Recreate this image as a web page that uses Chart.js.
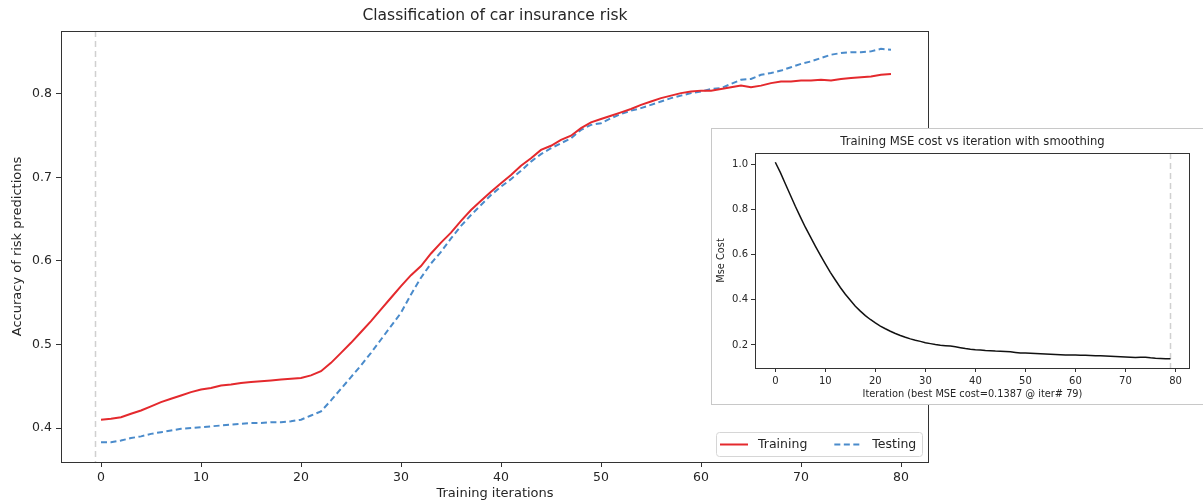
<!DOCTYPE html>
<html>
<head>
<meta charset="utf-8">
<script src="https://cdn.jsdelivr.net/npm/chart.js@4.4.0/dist/chart.umd.min.js"></script>
<style>
    body { margin: 0; background: #fff; }
    #wrap { position: relative; width: 1203px; height: 503px; overflow: hidden; }
    #mainChart { position: absolute; left: 0; top: 0; }
    #insetBox { position: absolute; left: 711px; top: 128px; width: 500px; height: 275px; border: 1px solid #c8c8c8; background: #fff; }
    #insetChart { position: absolute; left: 0; top: 0; }
</style>
</head>
<body>
<div id="wrap">
    <canvas id="mainChart" width="1203" height="503"></canvas>
    <div id="insetBox">
        <canvas id="insetChart" width="491" height="275"></canvas>
    </div>
</div>
<script>
// iteration index 0..79
const iterations = Array.from({ length: 80 }, (_, i) => i);

const trainingAcc = [
    0.410, 0.411, 0.413, 0.417, 0.421, 0.426, 0.431, 0.435, 0.439, 0.443,
    0.446, 0.448, 0.451, 0.452, 0.454, 0.455, 0.456, 0.457, 0.458, 0.459,
    0.460, 0.463, 0.468, 0.478, 0.490, 0.502, 0.515, 0.528, 0.542, 0.556,
    0.570, 0.583, 0.594, 0.609, 0.622, 0.634, 0.648, 0.661, 0.672, 0.683,
    0.693, 0.703, 0.714, 0.723, 0.733, 0.738, 0.745, 0.750, 0.759, 0.766,
    0.770, 0.774, 0.778, 0.782, 0.787, 0.791, 0.795, 0.798, 0.801, 0.803,
    0.804, 0.804, 0.806, 0.808, 0.810, 0.808, 0.810, 0.813, 0.815, 0.815,
    0.816, 0.816, 0.817, 0.816, 0.818, 0.819, 0.820, 0.821, 0.823, 0.824
];

const testingAcc = [
    0.383, 0.383, 0.385, 0.388, 0.390, 0.393, 0.395, 0.397, 0.399, 0.400,
    0.401, 0.402, 0.403, 0.404, 0.405, 0.406, 0.406, 0.407, 0.407, 0.408,
    0.410, 0.415, 0.420, 0.433, 0.447, 0.461, 0.475, 0.490, 0.506, 0.522,
    0.538, 0.560, 0.580, 0.597, 0.611, 0.627, 0.642, 0.655, 0.667, 0.679,
    0.689, 0.698, 0.708, 0.719, 0.728, 0.735, 0.741, 0.747, 0.757, 0.763,
    0.765, 0.771, 0.776, 0.780, 0.783, 0.787, 0.791, 0.795, 0.798, 0.801,
    0.803, 0.806, 0.807, 0.812, 0.817, 0.818, 0.823, 0.825, 0.828, 0.832,
    0.836, 0.839, 0.843, 0.847, 0.849, 0.850, 0.850, 0.851, 0.854, 0.853
];

const mseCost = [
    1.010, 0.965, 0.915, 0.865, 0.815, 0.768, 0.722, 0.680, 0.638, 0.598,
    0.560, 0.522, 0.488, 0.455, 0.425, 0.398, 0.372, 0.350, 0.330, 0.313,
    0.298, 0.284, 0.272, 0.261, 0.251, 0.242, 0.234, 0.227, 0.221, 0.216,
    0.210, 0.206, 0.202, 0.199, 0.197, 0.195, 0.192, 0.188, 0.184, 0.181,
    0.179, 0.178, 0.176, 0.175, 0.173, 0.172, 0.171, 0.170, 0.167, 0.164,
    0.164, 0.163, 0.162, 0.161, 0.160, 0.159, 0.158, 0.157, 0.156, 0.156,
    0.156, 0.155, 0.154, 0.153, 0.152, 0.152, 0.151, 0.150, 0.149, 0.148,
    0.147, 0.146, 0.145, 0.146, 0.146, 0.143, 0.141, 0.140, 0.139, 0.1387
];

const mainXTicks = [0, 10, 20, 30, 40, 50, 60, 70, 80];
const mainYTicks = [0.4, 0.5, 0.6, 0.7, 0.8];
const insetXTicks = [0, 10, 20, 30, 40, 50, 60, 70, 80];
const insetYTicks = [0.2, 0.4, 0.6, 0.8, 1.0];

const mainMarker = -0.6;   // grey dashed line on the accuracy plot
const bestIter = 79;       // grey dashed line on the cost plot

const FONT = 'DejaVu Sans';
const TEXT = '#262626';

function points(ys) {
    return iterations.map((x, i) => ({ x: x, y: ys[i] }));
}

// frame, title and the dashed marker line, drawn the matplotlib way
const framePlugin = {
    id: 'frame',
    beforeDatasetsDraw(chart, args, opts) {
        const { ctx, chartArea: a, scales: { x } } = chart;
        const px = Math.round(x.getPixelForValue(opts.marker)) + 0.5;
        ctx.save();
        ctx.strokeStyle = '#d0d0d0';
        ctx.lineWidth = 1.5;
        ctx.setLineDash([6, 4]);
        ctx.beginPath();
        ctx.moveTo(px, a.top);
        ctx.lineTo(px, a.bottom);
        ctx.stroke();
        ctx.restore();
    },
    afterDraw(chart, args, opts) {
        const { ctx, chartArea: a } = chart;
        ctx.save();
        ctx.strokeStyle = '#333';
        ctx.lineWidth = 1;
        ctx.strokeRect(a.left + 0.5, a.top + 0.5, a.right - a.left - 1, a.bottom - a.top);
        ctx.fillStyle = TEXT;
        ctx.font = opts.titleFont;
        ctx.textAlign = 'center';
        ctx.textBaseline = 'middle';
        ctx.fillText(opts.title, (a.left + a.right) / 2, opts.titleY);
        ctx.restore();
    }
};

// legend box in the lower right corner of the accuracy plot
const legendPlugin = {
    id: 'cornerLegend',
    afterDraw(chart) {
        const { ctx, chartArea: a } = chart;
        const w = 206, h = 24;
        const x0 = a.right - 7 - w, y0 = a.bottom - 6 - h;
        ctx.save();
        ctx.fillStyle = 'rgba(255,255,255,0.85)';
        ctx.strokeStyle = '#d6d6d6';
        ctx.lineWidth = 1;
        ctx.beginPath();
        ctx.roundRect(x0 + 0.5, y0 + 0.5, w, h, 3);
        ctx.fill();
        ctx.stroke();
        ctx.font = '12.5px ' + FONT;
        ctx.textBaseline = 'middle';
        ctx.fillStyle = TEXT;
        const cy = y0 + h / 2 + 0.5;
        let cx = x0 + 4;
        chart.data.datasets.forEach(ds => {
            ctx.strokeStyle = ds.borderColor;
            ctx.lineWidth = ds.borderWidth;
            ctx.setLineDash(ds.borderDash || []);
            ctx.beginPath();
            ctx.moveTo(cx, cy);
            ctx.lineTo(cx + 28, cy);
            ctx.stroke();
            ctx.fillText(ds.label, cx + 38, cy);
            cx += 38 + ctx.measureText(ds.label).width + 27;
        });
        ctx.restore();
    }
};

new Chart(document.getElementById('mainChart').getContext('2d'), {
    type: 'line',
    data: {
        datasets: [{
            label: 'Training',
            data: points(trainingAcc),
            borderColor: '#e4292d',
            borderWidth: 2,
            pointRadius: 0,
            tension: 0
        }, {
            label: 'Testing',
            data: points(testingAcc),
            borderColor: '#4a8bcb',
            borderWidth: 2,
            borderDash: [6, 3.5],
            pointRadius: 0,
            tension: 0
        }]
    },
    options: {
        responsive: false,
        animation: false,
        layout: { padding: { left: 0, top: 31, right: 274, bottom: 0 } },
        plugins: {
            legend: { display: false },
            tooltip: { enabled: false },
            frame: { title: 'Classification of car insurance risk', titleFont: '15.5px ' + FONT, titleY: 16, marker: mainMarker }
        },
        scales: {
            x: {
                type: 'linear',
                min: -4,
                max: 82.8,
                afterBuildTicks: s => { s.ticks = mainXTicks.map(v => ({ value: v })); },
                afterFit: s => { s.height = 41; },
                grid: { drawOnChartArea: false, tickLength: 5, color: '#333' },
                border: { display: false },
                ticks: { font: { family: FONT, size: 12.5 }, color: TEXT, padding: 3, maxRotation: 0 },
                title: { display: true, text: 'Training iterations', font: { family: FONT, size: 13 }, color: TEXT, padding: { top: 0, bottom: 2 } }
            },
            y: {
                min: 0.3593,
                max: 0.8754,
                afterBuildTicks: s => { s.ticks = mainYTicks.map(v => ({ value: v })); },
                afterFit: s => { s.width = 61; },
                grid: { drawOnChartArea: false, tickLength: 5, color: '#333' },
                border: { display: false },
                ticks: { font: { family: FONT, size: 12.5 }, color: TEXT, padding: 4, callback: v => v.toFixed(1) },
                title: { display: true, text: 'Accuracy of risk predictions', font: { family: FONT, size: 13 }, color: TEXT, padding: { top: 10, bottom: 0 } }
            }
        }
    },
    plugins: [framePlugin, legendPlugin]
});

new Chart(document.getElementById('insetChart').getContext('2d'), {
    type: 'line',
    data: {
        datasets: [{
            label: 'Mse Cost',
            data: points(mseCost),
            borderColor: '#111',
            borderWidth: 1.5,
            pointRadius: 0,
            tension: 0
        }]
    },
    options: {
        responsive: false,
        animation: false,
        layout: { padding: { left: 0, top: 24, right: 13, bottom: 0 } },
        plugins: {
            legend: { display: false },
            tooltip: { enabled: false },
            frame: { title: 'Training MSE cost vs iteration with smoothing', titleFont: '11.6px ' + FONT, titleY: 13, marker: bestIter }
        },
        scales: {
            x: {
                type: 'linear',
                min: -4.06,
                max: 82.9,
                afterBuildTicks: s => { s.ticks = insetXTicks.map(v => ({ value: v })); },
                afterFit: s => { s.height = 36; },
                grid: { drawOnChartArea: false, tickLength: 4, color: '#333' },
                border: { display: false },
                ticks: { font: { family: FONT, size: 10 }, color: TEXT, padding: 3, maxRotation: 0 },
                title: { display: true, text: 'Iteration (best MSE cost=0.1387 @ iter# 79)', font: { family: FONT, size: 9.8 }, color: TEXT, padding: { top: 0, bottom: 4 } }
            },
            y: {
                min: 0.098,
                max: 1.051,
                afterBuildTicks: s => { s.ticks = insetYTicks.map(v => ({ value: v })); },
                afterFit: s => { s.width = 43; },
                grid: { drawOnChartArea: false, tickLength: 4, color: '#333' },
                border: { display: false },
                ticks: { font: { family: FONT, size: 10 }, color: TEXT, padding: 3, callback: v => v.toFixed(1) },
                title: { display: true, text: 'Mse Cost', font: { family: FONT, size: 9.8 }, color: TEXT, padding: { top: 4, bottom: 0 } }
            }
        }
    },
    plugins: [framePlugin]
});
</script>
</body>
</html>
